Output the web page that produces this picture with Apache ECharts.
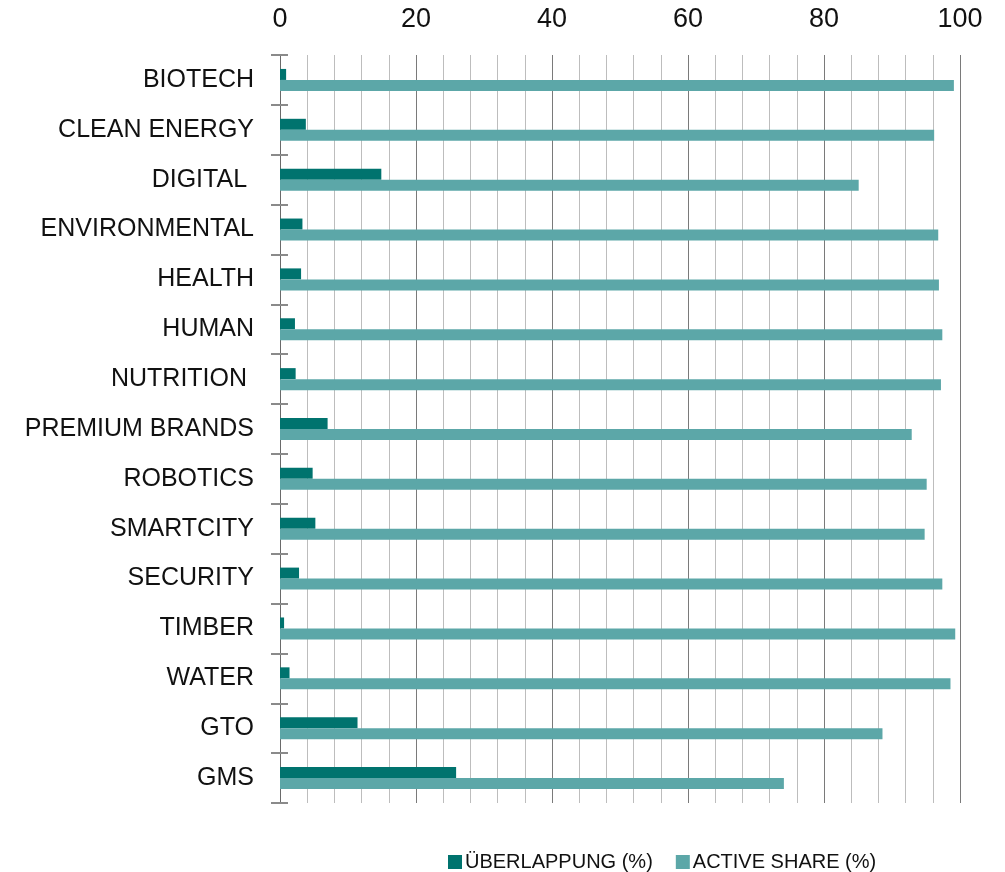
<!DOCTYPE html>
<html>
<head>
<meta charset="utf-8">
<title>Überlappung und Active Share</title>
<script src="https://cdn.jsdelivr.net/npm/echarts@6/dist/echarts.min.js"></script>
<style>
  html, body { margin: 0; padding: 0; background: #ffffff; }
  #chart { width: 1005px; height: 872px; }
</style>
</head>
<body>
<div id="chart"></div>
<script>
// Fund names, top to bottom
const categories = [
  'BIOTECH', 'CLEAN ENERGY', 'DIGITAL ', 'ENVIRONMENTAL', 'HEALTH', 'HUMAN',
  'NUTRITION ', 'PREMIUM BRANDS', 'ROBOTICS', 'SMARTCITY', 'SECURITY',
  'TIMBER', 'WATER', 'GTO', 'GMS'
];

// Overlap with the benchmark, in percent
const overlap = [0.9, 3.8, 14.9, 3.3, 3.1, 2.2, 2.3, 7.0, 4.8, 5.2, 2.8, 0.6, 1.4, 11.4, 25.9];

// Active share, in percent
const activeShare = [99.1, 96.2, 85.1, 96.8, 96.9, 97.4, 97.2, 92.9, 95.1, 94.8, 97.4, 99.3, 98.6, 88.6, 74.1];

// Value axis tick labels
const xTicks = [0, 20, 40, 60, 80, 100];

const seriesNames = ['ÜBERLAPPUNG (%)', 'ACTIVE SHARE (%)'];
const FONT = 'Liberation Sans';

const chart = echarts.init(document.getElementById('chart'), null, { renderer: 'canvas' });

chart.setOption({
  animation: false,
  backgroundColor: '#ffffff',
  textStyle: { fontFamily: FONT },
  grid: { left: 280, right: 45, top: 55, bottom: 69, containLabel: false },
  legend: {
    data: seriesNames,
    left: 448,
    top: 852,
    itemWidth: 14,
    itemHeight: 14,
    itemGap: 23,
    icon: 'rect',
    padding: 0,
    textStyle: { fontFamily: FONT, fontSize: 20, color: '#111111', padding: [0, 0, 0, -2] }
  },
  xAxis: {
    type: 'value',
    position: 'top',
    min: xTicks[0],
    max: xTicks[xTicks.length - 1],
    interval: xTicks[1] - xTicks[0],
    axisLine: { show: false },
    axisTick: { show: false },
    axisLabel: {
      fontFamily: FONT, fontSize: 27, color: '#111111', margin: 22,
      formatter: v => xTicks.includes(v) ? String(v) : ''
    },
    splitLine: { show: true, lineStyle: { color: '#7a7a7a', width: 1 } },
    minorTick: { show: false, splitNumber: 5 },
    minorSplitLine: { show: true, lineStyle: { color: '#bdbdbd', width: 1 } }
  },
  yAxis: [
    {
      type: 'category',
      data: categories,
      inverse: true,
      axisLine: { show: true, lineStyle: { color: '#6a6a6a', width: 1 } },
      axisTick: { show: true, inside: false, length: 9, lineStyle: { color: '#8a8a8a', width: 2 } },
      axisLabel: { fontFamily: FONT, fontSize: 25, color: '#111111', margin: 26 },
      splitLine: { show: false }
    },
    {
      // Second copy of the category axis: draws the inner half of each tick
      type: 'category',
      data: categories,
      inverse: true,
      position: 'left',
      axisLine: { show: false },
      axisTick: { show: true, inside: true, length: 8, lineStyle: { color: '#8a8a8a', width: 2 } },
      axisLabel: { show: false },
      splitLine: { show: false }
    }
  ],
  series: [
    {
      name: seriesNames[0],
      type: 'bar',
      yAxisIndex: 0,
      data: overlap,
      barWidth: 11,
      barGap: '0%',
      itemStyle: { color: '#00736e' }
    },
    {
      name: seriesNames[1],
      type: 'bar',
      yAxisIndex: 0,
      data: activeShare,
      barWidth: 11,
      barGap: '0%',
      itemStyle: { color: '#5ca7a8' }
    }
  ]
});
</script>
</body>
</html>
